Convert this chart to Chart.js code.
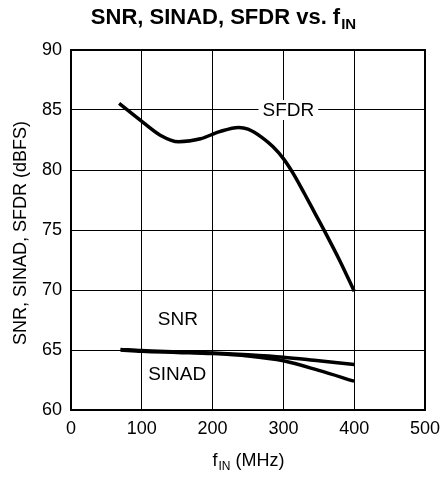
<!DOCTYPE html>
<html>
<head>
<meta charset="utf-8">
<script src="https://cdn.jsdelivr.net/npm/chart.js@4/dist/chart.umd.min.js"></script>
<style>
  html, body { margin: 0; padding: 0; background: #fff; }
</style>
</head>
<body>
<canvas id="chart" width="443" height="479"></canvas>
<script>
// values
const sfdrFreq = [68, 100, 126, 152, 183, 210, 237, 250, 270, 285, 300, 315, 330, 345, 360, 380, 400];
const sfdrVals = [85.55, 84.05, 82.9, 82.35, 82.6, 83.2, 83.55, 83.4, 82.7, 81.95, 80.95, 79.6, 78.0, 76.35, 74.7, 72.4, 69.9];
const noiseFreq = [70, 100, 150, 200, 250, 300, 350, 400];
const snrVals = [65.05, 64.95, 64.85, 64.75, 64.6, 64.4, 64.1, 63.8];
const sinadVals = [65.0, 64.9, 64.8, 64.7, 64.5, 64.1, 63.3, 62.4];
const xTicks = [0, 100, 200, 300, 400, 500];
const yTicks = [60, 65, 70, 75, 80, 85, 90];

const FONT = '"Liberation Sans", Arial, Helvetica, sans-serif';

const toPoints = (xs, ys) => xs.map((x, i) => ({ x: x, y: ys[i] }));

function lineSet(label, xs, ys) {
  return {
    label: label,
    data: toPoints(xs, ys),
    borderColor: "#000",
    borderWidth: 3.5,
    pointRadius: 0,
    fill: false,
    cubicInterpolationMode: "monotone",
  };
}

// title, axis titles (with subscripts) and the curve labels
const annotations = {
  id: "annotations",
  afterDraw(chart) {
    const ctx = chart.ctx;
    const a = chart.chartArea;
    const xs = chart.scales.x, ys = chart.scales.y;
    ctx.save();
    ctx.fillStyle = "#000";
    ctx.strokeStyle = "#000";

    // frame
    ctx.lineWidth = 2;
    ctx.strokeRect(a.left, a.top, a.right - a.left, a.bottom - a.top);

    // title
    ctx.textBaseline = "alphabetic";
    ctx.textAlign = "left";
    const main = "SNR, SINAD, SFDR vs. f";
    ctx.font = "bold 22px " + FONT;
    const w1 = ctx.measureText(main).width;
    ctx.font = "bold 15px " + FONT;
    const w2 = ctx.measureText("IN").width;
    let tx = 223 - (w1 + w2) / 2;
    ctx.font = "bold 22px " + FONT;
    ctx.fillText(main, tx, 24);
    ctx.font = "bold 15px " + FONT;
    ctx.fillText("IN", tx + w1 + 1, 29);

    // x axis title
    ctx.font = "18px " + FONT;
    const f = "f", rest = " (MHz)";
    const fw = ctx.measureText(f).width;
    const rw = ctx.measureText(rest).width;
    ctx.font = "12px " + FONT;
    const sw = ctx.measureText("IN").width;
    let cx = (a.left + a.right) / 2 - (fw + sw + rw) / 2;
    ctx.font = "18px " + FONT;
    ctx.fillText(f, cx, 466);
    ctx.font = "12px " + FONT;
    ctx.fillText("IN", cx + fw + 1, 470);
    ctx.font = "18px " + FONT;
    ctx.fillText(rest, cx + fw + sw + 1, 466);

    // y axis title
    ctx.save();
    ctx.translate(26, (a.top + a.bottom) / 2 + 3);
    ctx.rotate(-Math.PI / 2);
    ctx.textAlign = "center";
    ctx.font = "18px " + FONT;
    ctx.fillText("SNR, SINAD, SFDR (dBFS)", 0, 0);
    ctx.restore();

    // curve labels
    ctx.font = "19px " + FONT;
    ctx.textAlign = "center";
    ctx.textBaseline = "middle";
    const sx = xs.getPixelForValue(307), sy = ys.getPixelForValue(85);
    const lw = ctx.measureText("SFDR").width;
    ctx.fillStyle = "#fff";
    ctx.fillRect(sx - lw / 2 - 4, sy - 10, lw + 8, 20);
    ctx.fillStyle = "#000";
    ctx.fillText("SFDR", sx, sy + 1);
    ctx.fillText("SNR", xs.getPixelForValue(151), ys.getPixelForValue(67.5));
    ctx.fillText("SINAD", xs.getPixelForValue(150), ys.getPixelForValue(62.9));
    ctx.restore();
  },
};

new Chart(document.getElementById("chart"), {
  type: "line",
  data: {
    datasets: [
      lineSet("SFDR", sfdrFreq, sfdrVals),
      lineSet("SNR", noiseFreq, snrVals),
      lineSet("SINAD", noiseFreq, sinadVals),
    ],
  },
  options: {
    responsive: false,
    animation: false,
    layout: { padding: { top: 50, right: 18, left: 0, bottom: 0 } },
    plugins: { legend: { display: false }, tooltip: { enabled: false } },
    scales: {
      x: {
        type: "linear",
        min: 0,
        max: 500,
        afterBuildTicks: (s) => { s.ticks = xTicks.map((v) => ({ value: v })); },
        afterFit: (s) => { s.height = 69; s.paddingLeft = 0; s.paddingRight = 0; },
        grid: { color: "#000", lineWidth: 1, drawTicks: false },
        border: { display: true, color: "#000", width: 2 },
        ticks: { color: "#000", padding: 8, font: { family: FONT, size: 18 } },
      },
      y: {
        type: "linear",
        min: 60,
        max: 90,
        afterBuildTicks: (s) => { s.ticks = yTicks.map((v) => ({ value: v })); },
        afterFit: (s) => { s.width = 71; s.paddingTop = 0; s.paddingBottom = 0; },
        grid: { color: "#000", lineWidth: 1, drawTicks: false },
        border: { display: true, color: "#000", width: 2 },
        ticks: { color: "#000", padding: 9, font: { family: FONT, size: 18 } },
      },
    },
  },
  plugins: [annotations],
});
</script>
</body>
</html>
